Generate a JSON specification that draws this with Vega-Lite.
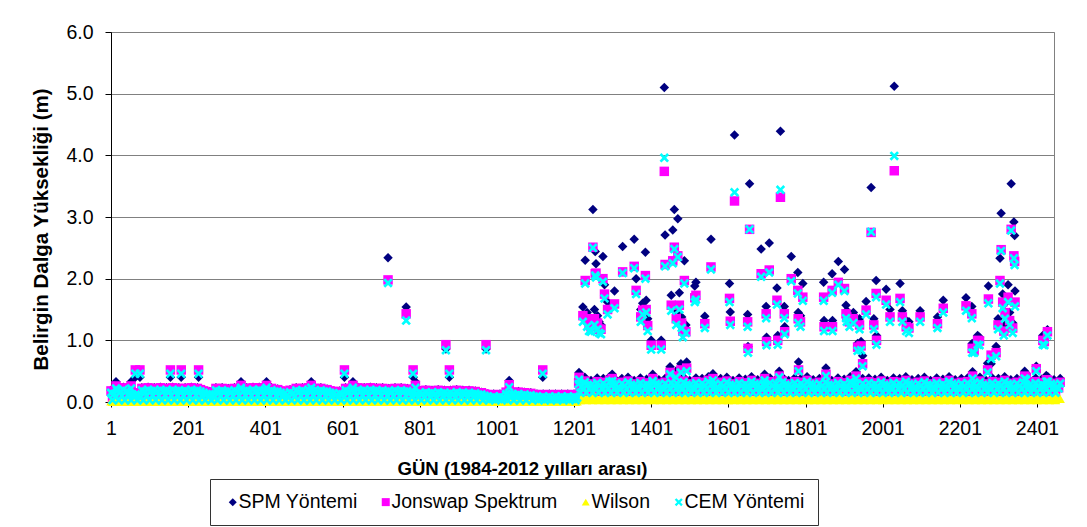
{
"$schema": "https://vega.github.io/schema/vega-lite/v6.json",
"width": 943, "height": 370,
"autosize": {"type": "none"},
"padding": {"left": 111, "top": 32, "right": 33, "bottom": 125},
"background": "white",
"config": {
  "font": "Liberation Sans",
  "view": {"stroke": "#808080", "strokeWidth": 1},
  "mark": {"invalid": "filter"},
  "axis": {"labelFont": "Liberation Sans", "titleFont": "Liberation Sans", "labelColor": "black", "titleColor": "black", "domainColor": "black", "tickColor": "black", "labelFontSize": 19.5, "titleFontWeight": "bold"}
},
"data": {"values": [
{"t":1,"a":0.19,"b":0.18,"c":0.01,"d":0.15},{"t":5,"a":0.05,"b":0.04,"c":0,"d":0.03},{"t":9,"a":0.17,"b":0.16,"c":0.01,"d":0.13},{"t":13,"a":0.11,"b":0.1,"c":0.01,"d":0.08},
{"t":17,"a":0.23,"b":0.22,"c":0.01,"d":0.19},{"t":21,"a":0.05,"b":0.04,"c":0,"d":0.03},{"t":25,"a":0.21,"b":0.2,"c":0.01,"d":0.17},{"t":29,"a":0.13,"b":0.12,"c":0.01,"d":0.1},
{"t":33,"a":0.24,"b":0.23,"c":0.01,"d":0.2},{"t":37,"a":0.05,"b":0.04,"c":0,"d":0.03},{"t":41,"a":0.22,"b":0.21,"c":0.01,"d":0.18},{"t":45,"a":0.14,"b":0.13,"c":0.01,"d":0.11},
{"t":49,"a":0.18,"b":0.17,"c":0.01,"d":0.14},{"t":53,"a":0.05,"b":0.04,"c":0,"d":0.03},{"t":57,"a":0.16,"b":0.15,"c":0.01,"d":0.12},{"t":61,"a":0.11,"b":0.1,"c":0.01,"d":0.08},
{"t":65,"a":0.16,"b":0.15,"c":0.01,"d":0.12},{"t":69,"a":0.05,"b":0.04,"c":0,"d":0.03},{"t":73,"a":0.14,"b":0.13,"c":0.01,"d":0.1},{"t":77,"a":0.1,"b":0.09,"c":0.01,"d":0.07},
{"t":81,"a":0.23,"b":0.22,"c":0.01,"d":0.19},{"t":85,"a":0.05,"b":0.04,"c":0,"d":0.03},{"t":89,"a":0.21,"b":0.2,"c":0.01,"d":0.17},{"t":93,"a":0.13,"b":0.12,"c":0.01,"d":0.1},
{"t":97,"a":0.24,"b":0.23,"c":0.01,"d":0.2},{"t":101,"a":0.05,"b":0.04,"c":0,"d":0.03},{"t":105,"a":0.22,"b":0.21,"c":0.01,"d":0.18},{"t":109,"a":0.14,"b":0.13,"c":0.01,"d":0.11},
{"t":113,"a":0.23,"b":0.22,"c":0.01,"d":0.19},{"t":117,"a":0.05,"b":0.04,"c":0,"d":0.03},{"t":121,"a":0.21,"b":0.2,"c":0.01,"d":0.17},{"t":125,"a":0.13,"b":0.12,"c":0.01,"d":0.1},
{"t":129,"a":0.24,"b":0.23,"c":0.01,"d":0.2},{"t":133,"a":0.05,"b":0.04,"c":0,"d":0.03},{"t":137,"a":0.22,"b":0.21,"c":0.01,"d":0.18},{"t":141,"a":0.14,"b":0.13,"c":0.01,"d":0.11},
{"t":145,"a":0.23,"b":0.22,"c":0.01,"d":0.19},{"t":149,"a":0.05,"b":0.04,"c":0,"d":0.03},{"t":153,"a":0.21,"b":0.2,"c":0.01,"d":0.17},{"t":157,"a":0.13,"b":0.12,"c":0.01,"d":0.1},
{"t":161,"a":0.24,"b":0.23,"c":0.01,"d":0.2},{"t":165,"a":0.05,"b":0.04,"c":0,"d":0.03},{"t":169,"a":0.22,"b":0.21,"c":0.01,"d":0.18},{"t":173,"a":0.14,"b":0.13,"c":0.01,"d":0.11},
{"t":177,"a":0.23,"b":0.22,"c":0.01,"d":0.19},{"t":181,"a":0.05,"b":0.04,"c":0,"d":0.03},{"t":185,"a":0.21,"b":0.2,"c":0.01,"d":0.17},{"t":189,"a":0.13,"b":0.12,"c":0.01,"d":0.1},
{"t":193,"a":0.23,"b":0.22,"c":0.01,"d":0.19},{"t":197,"a":0.05,"b":0.04,"c":0,"d":0.03},{"t":201,"a":0.21,"b":0.2,"c":0.01,"d":0.17},{"t":205,"a":0.13,"b":0.12,"c":0.01,"d":0.1},
{"t":209,"a":0.24,"b":0.23,"c":0.01,"d":0.2},{"t":213,"a":0.05,"b":0.04,"c":0,"d":0.03},{"t":217,"a":0.22,"b":0.21,"c":0.01,"d":0.18},{"t":221,"a":0.14,"b":0.13,"c":0.01,"d":0.11},
{"t":225,"a":0.23,"b":0.22,"c":0.01,"d":0.19},{"t":229,"a":0.05,"b":0.04,"c":0,"d":0.03},{"t":233,"a":0.21,"b":0.2,"c":0.01,"d":0.17},{"t":237,"a":0.13,"b":0.12,"c":0.01,"d":0.1},
{"t":241,"a":0.19,"b":0.18,"c":0.01,"d":0.15},{"t":245,"a":0.05,"b":0.04,"c":0,"d":0.03},{"t":249,"a":0.17,"b":0.16,"c":0.01,"d":0.13},{"t":253,"a":0.11,"b":0.1,"c":0.01,"d":0.08},
{"t":257,"a":0.17,"b":0.16,"c":0.01,"d":0.13},{"t":261,"a":0.05,"b":0.04,"c":0,"d":0.03},{"t":265,"a":0.15,"b":0.14,"c":0.01,"d":0.11},{"t":269,"a":0.1,"b":0.09,"c":0.01,"d":0.07},
{"t":273,"a":0.23,"b":0.22,"c":0.01,"d":0.19},{"t":277,"a":0.05,"b":0.04,"c":0,"d":0.03},{"t":281,"a":0.21,"b":0.2,"c":0.01,"d":0.17},{"t":285,"a":0.13,"b":0.12,"c":0.01,"d":0.1},
{"t":289,"a":0.23,"b":0.22,"c":0.01,"d":0.19},{"t":293,"a":0.05,"b":0.04,"c":0,"d":0.03},{"t":297,"a":0.21,"b":0.2,"c":0.01,"d":0.17},{"t":301,"a":0.13,"b":0.12,"c":0.01,"d":0.1},
{"t":305,"a":0.22,"b":0.21,"c":0.01,"d":0.18},{"t":309,"a":0.05,"b":0.04,"c":0,"d":0.03},{"t":313,"a":0.2,"b":0.19,"c":0.01,"d":0.16},{"t":317,"a":0.13,"b":0.12,"c":0.01,"d":0.1},
{"t":321,"a":0.23,"b":0.22,"c":0.01,"d":0.19},{"t":325,"a":0.05,"b":0.04,"c":0,"d":0.03},{"t":329,"a":0.21,"b":0.2,"c":0.01,"d":0.17},{"t":333,"a":0.13,"b":0.12,"c":0.01,"d":0.1},
{"t":337,"a":0.24,"b":0.23,"c":0.01,"d":0.2},{"t":341,"a":0.05,"b":0.04,"c":0,"d":0.03},{"t":345,"a":0.22,"b":0.21,"c":0.01,"d":0.18},{"t":349,"a":0.14,"b":0.13,"c":0.01,"d":0.11},
{"t":353,"a":0.23,"b":0.22,"c":0.01,"d":0.19},{"t":357,"a":0.05,"b":0.04,"c":0,"d":0.03},{"t":361,"a":0.21,"b":0.2,"c":0.01,"d":0.17},{"t":365,"a":0.13,"b":0.12,"c":0.01,"d":0.1},
{"t":369,"a":0.24,"b":0.23,"c":0.01,"d":0.2},{"t":373,"a":0.05,"b":0.04,"c":0,"d":0.03},{"t":377,"a":0.22,"b":0.21,"c":0.01,"d":0.18},{"t":381,"a":0.14,"b":0.13,"c":0.01,"d":0.11},
{"t":385,"a":0.24,"b":0.23,"c":0.01,"d":0.2},{"t":389,"a":0.05,"b":0.04,"c":0,"d":0.03},{"t":393,"a":0.22,"b":0.21,"c":0.01,"d":0.18},{"t":397,"a":0.14,"b":0.13,"c":0.01,"d":0.11},
{"t":401,"a":0.23,"b":0.22,"c":0.01,"d":0.19},{"t":405,"a":0.05,"b":0.04,"c":0,"d":0.03},{"t":409,"a":0.21,"b":0.2,"c":0.01,"d":0.17},{"t":413,"a":0.13,"b":0.12,"c":0.01,"d":0.1},
{"t":417,"a":0.23,"b":0.22,"c":0.01,"d":0.19},{"t":421,"a":0.05,"b":0.04,"c":0,"d":0.03},{"t":425,"a":0.21,"b":0.2,"c":0.01,"d":0.17},{"t":429,"a":0.13,"b":0.12,"c":0.01,"d":0.1},
{"t":433,"a":0.21,"b":0.2,"c":0.01,"d":0.17},{"t":437,"a":0.05,"b":0.04,"c":0,"d":0.03},{"t":441,"a":0.19,"b":0.18,"c":0.01,"d":0.15},{"t":445,"a":0.12,"b":0.11,"c":0.01,"d":0.09},
{"t":449,"a":0.17,"b":0.16,"c":0.01,"d":0.13},{"t":453,"a":0.05,"b":0.04,"c":0,"d":0.03},{"t":457,"a":0.15,"b":0.14,"c":0.01,"d":0.11},{"t":461,"a":0.1,"b":0.09,"c":0.01,"d":0.07},
{"t":465,"a":0.2,"b":0.19,"c":0.01,"d":0.16},{"t":469,"a":0.05,"b":0.04,"c":0,"d":0.03},{"t":473,"a":0.18,"b":0.17,"c":0.01,"d":0.14},{"t":477,"a":0.12,"b":0.11,"c":0.01,"d":0.09},
{"t":481,"a":0.23,"b":0.22,"c":0.01,"d":0.19},{"t":485,"a":0.05,"b":0.04,"c":0,"d":0.03},{"t":489,"a":0.21,"b":0.2,"c":0.01,"d":0.17},{"t":493,"a":0.13,"b":0.12,"c":0.01,"d":0.1},
{"t":497,"a":0.23,"b":0.22,"c":0.01,"d":0.19},{"t":501,"a":0.05,"b":0.04,"c":0,"d":0.03},{"t":505,"a":0.21,"b":0.2,"c":0.01,"d":0.17},{"t":509,"a":0.13,"b":0.12,"c":0.01,"d":0.1},
{"t":513,"a":0.24,"b":0.23,"c":0.01,"d":0.2},{"t":517,"a":0.05,"b":0.04,"c":0,"d":0.03},{"t":521,"a":0.22,"b":0.21,"c":0.01,"d":0.18},{"t":525,"a":0.14,"b":0.13,"c":0.01,"d":0.11},
{"t":529,"a":0.23,"b":0.22,"c":0.01,"d":0.19},{"t":533,"a":0.05,"b":0.04,"c":0,"d":0.03},{"t":537,"a":0.21,"b":0.2,"c":0.01,"d":0.17},{"t":541,"a":0.13,"b":0.12,"c":0.01,"d":0.1},
{"t":545,"a":0.23,"b":0.22,"c":0.01,"d":0.19},{"t":549,"a":0.05,"b":0.04,"c":0,"d":0.03},{"t":553,"a":0.21,"b":0.2,"c":0.01,"d":0.17},{"t":557,"a":0.13,"b":0.12,"c":0.01,"d":0.1},
{"t":561,"a":0.21,"b":0.2,"c":0.01,"d":0.17},{"t":565,"a":0.05,"b":0.04,"c":0,"d":0.03},{"t":569,"a":0.19,"b":0.18,"c":0.01,"d":0.15},{"t":573,"a":0.12,"b":0.11,"c":0.01,"d":0.09},
{"t":577,"a":0.18,"b":0.17,"c":0.01,"d":0.14},{"t":581,"a":0.05,"b":0.04,"c":0,"d":0.03},{"t":585,"a":0.16,"b":0.15,"c":0.01,"d":0.12},{"t":589,"a":0.11,"b":0.1,"c":0.01,"d":0.08},
{"t":593,"a":0.18,"b":0.17,"c":0.01,"d":0.14},{"t":597,"a":0.05,"b":0.04,"c":0,"d":0.03},{"t":601,"a":0.16,"b":0.15,"c":0.01,"d":0.12},{"t":605,"a":0.11,"b":0.1,"c":0.01,"d":0.08},
{"t":609,"a":0.23,"b":0.22,"c":0.01,"d":0.19},{"t":613,"a":0.05,"b":0.04,"c":0,"d":0.03},{"t":617,"a":0.21,"b":0.2,"c":0.01,"d":0.17},{"t":621,"a":0.13,"b":0.12,"c":0.01,"d":0.1},
{"t":625,"a":0.23,"b":0.22,"c":0.01,"d":0.19},{"t":629,"a":0.05,"b":0.04,"c":0,"d":0.03},{"t":633,"a":0.21,"b":0.2,"c":0.01,"d":0.17},{"t":637,"a":0.13,"b":0.12,"c":0.01,"d":0.1},
{"t":641,"a":0.24,"b":0.23,"c":0.01,"d":0.2},{"t":645,"a":0.05,"b":0.04,"c":0,"d":0.03},{"t":649,"a":0.22,"b":0.21,"c":0.01,"d":0.18},{"t":653,"a":0.14,"b":0.13,"c":0.01,"d":0.11},
{"t":657,"a":0.23,"b":0.22,"c":0.01,"d":0.19},{"t":661,"a":0.05,"b":0.04,"c":0,"d":0.03},{"t":665,"a":0.21,"b":0.2,"c":0.01,"d":0.17},{"t":669,"a":0.13,"b":0.12,"c":0.01,"d":0.1},
{"t":673,"a":0.24,"b":0.23,"c":0.01,"d":0.2},{"t":677,"a":0.05,"b":0.04,"c":0,"d":0.03},{"t":681,"a":0.22,"b":0.21,"c":0.01,"d":0.18},{"t":685,"a":0.14,"b":0.13,"c":0.01,"d":0.11},
{"t":689,"a":0.23,"b":0.22,"c":0.01,"d":0.19},{"t":693,"a":0.05,"b":0.04,"c":0,"d":0.03},{"t":697,"a":0.21,"b":0.2,"c":0.01,"d":0.17},{"t":701,"a":0.13,"b":0.12,"c":0.01,"d":0.1},
{"t":705,"a":0.23,"b":0.22,"c":0.01,"d":0.19},{"t":709,"a":0.05,"b":0.04,"c":0,"d":0.03},{"t":713,"a":0.21,"b":0.2,"c":0.01,"d":0.17},{"t":717,"a":0.13,"b":0.12,"c":0.01,"d":0.1},
{"t":721,"a":0.22,"b":0.21,"c":0.01,"d":0.18},{"t":725,"a":0.05,"b":0.04,"c":0,"d":0.03},{"t":729,"a":0.2,"b":0.19,"c":0.01,"d":0.16},{"t":733,"a":0.13,"b":0.12,"c":0.01,"d":0.1},
{"t":737,"a":0.23,"b":0.22,"c":0.01,"d":0.19},{"t":741,"a":0.05,"b":0.04,"c":0,"d":0.03},{"t":745,"a":0.21,"b":0.2,"c":0.01,"d":0.17},{"t":749,"a":0.13,"b":0.12,"c":0.01,"d":0.1},
{"t":753,"a":0.23,"b":0.22,"c":0.01,"d":0.19},{"t":757,"a":0.05,"b":0.04,"c":0,"d":0.03},{"t":761,"a":0.21,"b":0.2,"c":0.01,"d":0.17},{"t":765,"a":0.13,"b":0.12,"c":0.01,"d":0.1},
{"t":769,"a":0.22,"b":0.21,"c":0.01,"d":0.18},{"t":773,"a":0.05,"b":0.04,"c":0,"d":0.03},{"t":777,"a":0.2,"b":0.19,"c":0.01,"d":0.16},{"t":781,"a":0.13,"b":0.12,"c":0.01,"d":0.1},
{"t":785,"a":0.19,"b":0.18,"c":0.01,"d":0.15},{"t":789,"a":0.05,"b":0.04,"c":0,"d":0.03},{"t":793,"a":0.17,"b":0.16,"c":0.01,"d":0.13},{"t":797,"a":0.11,"b":0.1,"c":0.01,"d":0.08},
{"t":801,"a":0.19,"b":0.18,"c":0.01,"d":0.15},{"t":805,"a":0.05,"b":0.04,"c":0,"d":0.03},{"t":809,"a":0.17,"b":0.16,"c":0.01,"d":0.13},{"t":813,"a":0.11,"b":0.1,"c":0.01,"d":0.08},
{"t":817,"a":0.2,"b":0.19,"c":0.01,"d":0.16},{"t":821,"a":0.05,"b":0.04,"c":0,"d":0.03},{"t":825,"a":0.18,"b":0.17,"c":0.01,"d":0.14},{"t":829,"a":0.12,"b":0.11,"c":0.01,"d":0.09},
{"t":833,"a":0.19,"b":0.18,"c":0.01,"d":0.15},{"t":837,"a":0.05,"b":0.04,"c":0,"d":0.03},{"t":841,"a":0.17,"b":0.16,"c":0.01,"d":0.13},{"t":845,"a":0.11,"b":0.1,"c":0.01,"d":0.08},
{"t":849,"a":0.2,"b":0.19,"c":0.01,"d":0.16},{"t":853,"a":0.05,"b":0.04,"c":0,"d":0.03},{"t":857,"a":0.18,"b":0.17,"c":0.01,"d":0.14},{"t":861,"a":0.12,"b":0.11,"c":0.01,"d":0.09},
{"t":865,"a":0.19,"b":0.18,"c":0.01,"d":0.15},{"t":869,"a":0.05,"b":0.04,"c":0,"d":0.03},{"t":873,"a":0.17,"b":0.16,"c":0.01,"d":0.13},{"t":877,"a":0.11,"b":0.1,"c":0.01,"d":0.08},
{"t":881,"a":0.19,"b":0.18,"c":0.01,"d":0.15},{"t":885,"a":0.05,"b":0.04,"c":0,"d":0.03},{"t":889,"a":0.17,"b":0.16,"c":0.01,"d":0.13},{"t":893,"a":0.11,"b":0.1,"c":0.01,"d":0.08},
{"t":897,"a":0.2,"b":0.19,"c":0.01,"d":0.16},{"t":901,"a":0.05,"b":0.04,"c":0,"d":0.03},{"t":905,"a":0.18,"b":0.17,"c":0.01,"d":0.14},{"t":909,"a":0.12,"b":0.11,"c":0.01,"d":0.09},
{"t":913,"a":0.19,"b":0.18,"c":0.01,"d":0.15},{"t":917,"a":0.05,"b":0.04,"c":0,"d":0.03},{"t":921,"a":0.17,"b":0.16,"c":0.01,"d":0.13},{"t":925,"a":0.11,"b":0.1,"c":0.01,"d":0.08},
{"t":929,"a":0.19,"b":0.18,"c":0.01,"d":0.15},{"t":933,"a":0.05,"b":0.04,"c":0,"d":0.03},{"t":937,"a":0.17,"b":0.16,"c":0.01,"d":0.13},{"t":941,"a":0.11,"b":0.1,"c":0.01,"d":0.08},
{"t":945,"a":0.18,"b":0.17,"c":0.01,"d":0.14},{"t":949,"a":0.05,"b":0.04,"c":0,"d":0.03},{"t":953,"a":0.16,"b":0.15,"c":0.01,"d":0.12},{"t":957,"a":0.11,"b":0.1,"c":0.01,"d":0.08},
{"t":961,"a":0.16,"b":0.15,"c":0.01,"d":0.12},{"t":965,"a":0.05,"b":0.04,"c":0,"d":0.03},{"t":969,"a":0.14,"b":0.13,"c":0.01,"d":0.1},{"t":973,"a":0.1,"b":0.09,"c":0.01,"d":0.07},
{"t":977,"a":0.13,"b":0.12,"c":0.01,"d":0.09},{"t":981,"a":0.05,"b":0.04,"c":0,"d":0.03},{"t":985,"a":0.11,"b":0.1,"c":0.01,"d":0.07},{"t":989,"a":0.08,"b":0.07,"c":0.01,"d":0.05},
{"t":993,"a":0.13,"b":0.12,"c":0.01,"d":0.09},{"t":997,"a":0.05,"b":0.04,"c":0,"d":0.03},{"t":1001,"a":0.11,"b":0.1,"c":0.01,"d":0.07},{"t":1005,"a":0.08,"b":0.07,"c":0.01,"d":0.05},
{"t":1009,"a":0.13,"b":0.12,"c":0.01,"d":0.09},{"t":1013,"a":0.05,"b":0.04,"c":0,"d":0.03},{"t":1017,"a":0.11,"b":0.1,"c":0.01,"d":0.07},{"t":1021,"a":0.08,"b":0.07,"c":0.01,"d":0.05},
{"t":1025,"a":0.17,"b":0.16,"c":0.01,"d":0.13},{"t":1029,"a":0.05,"b":0.04,"c":0,"d":0.03},{"t":1033,"a":0.15,"b":0.14,"c":0.01,"d":0.11},{"t":1037,"a":0.1,"b":0.09,"c":0.01,"d":0.07},
{"t":1041,"a":0.17,"b":0.16,"c":0.01,"d":0.13},{"t":1045,"a":0.05,"b":0.04,"c":0,"d":0.03},{"t":1049,"a":0.15,"b":0.14,"c":0.01,"d":0.11},{"t":1053,"a":0.1,"b":0.09,"c":0.01,"d":0.07},
{"t":1057,"a":0.17,"b":0.16,"c":0.01,"d":0.13},{"t":1061,"a":0.05,"b":0.04,"c":0,"d":0.03},{"t":1065,"a":0.15,"b":0.14,"c":0.01,"d":0.11},{"t":1069,"a":0.1,"b":0.09,"c":0.01,"d":0.07},
{"t":1073,"a":0.16,"b":0.15,"c":0.01,"d":0.12},{"t":1077,"a":0.05,"b":0.04,"c":0,"d":0.03},{"t":1081,"a":0.14,"b":0.13,"c":0.01,"d":0.1},{"t":1085,"a":0.1,"b":0.09,"c":0.01,"d":0.07},
{"t":1089,"a":0.15,"b":0.14,"c":0.01,"d":0.11},{"t":1093,"a":0.05,"b":0.04,"c":0,"d":0.03},{"t":1097,"a":0.13,"b":0.12,"c":0.01,"d":0.09},{"t":1101,"a":0.09,"b":0.08,"c":0.01,"d":0.06},
{"t":1105,"a":0.13,"b":0.12,"c":0.01,"d":0.09},{"t":1109,"a":0.05,"b":0.04,"c":0,"d":0.03},{"t":1113,"a":0.11,"b":0.1,"c":0.01,"d":0.07},{"t":1117,"a":0.08,"b":0.07,"c":0.01,"d":0.05},
{"t":1121,"a":0.13,"b":0.12,"c":0.01,"d":0.09},{"t":1125,"a":0.05,"b":0.04,"c":0,"d":0.03},{"t":1129,"a":0.11,"b":0.1,"c":0.01,"d":0.07},{"t":1133,"a":0.08,"b":0.07,"c":0.01,"d":0.05},
{"t":1137,"a":0.13,"b":0.12,"c":0.01,"d":0.09},{"t":1141,"a":0.05,"b":0.04,"c":0,"d":0.03},{"t":1145,"a":0.11,"b":0.1,"c":0.01,"d":0.07},{"t":1149,"a":0.08,"b":0.07,"c":0.01,"d":0.05},
{"t":1153,"a":0.13,"b":0.12,"c":0.01,"d":0.09},{"t":1157,"a":0.05,"b":0.04,"c":0,"d":0.03},{"t":1161,"a":0.11,"b":0.1,"c":0.01,"d":0.07},{"t":1165,"a":0.08,"b":0.07,"c":0.01,"d":0.05},
{"t":1169,"a":0.13,"b":0.12,"c":0.01,"d":0.09},{"t":1173,"a":0.05,"b":0.04,"c":0,"d":0.03},{"t":1177,"a":0.11,"b":0.1,"c":0.01,"d":0.07},{"t":1181,"a":0.08,"b":0.07,"c":0.01,"d":0.05},
{"t":1185,"a":0.13,"b":0.12,"c":0.01,"d":0.09},{"t":1189,"a":0.05,"b":0.04,"c":0,"d":0.03},{"t":1193,"a":0.11,"b":0.1,"c":0.01,"d":0.07},{"t":1197,"a":0.08,"b":0.07,"c":0.01,"d":0.05},
{"t":1201,"a":0.13,"b":0.12,"c":0.01,"d":0.09},{"t":1205,"a":0.05,"b":0.04,"c":0,"d":0.03},{"t":1209,"a":0.11,"b":0.1,"c":0.01,"d":0.07},
{"t":1213,"a":0.37,"b":0.31,"c":0.05,"d":0.29},{"t":1217,"a":0.2,"b":0.17,"c":0.03,"d":0.15},{"t":1221,"a":0.3,"b":0.26,"c":0.08,"d":0.25},{"t":1225,"a":0.26,"b":0.23,"c":0.06,"d":0.22},
{"t":1229,"a":0.4,"b":0.34,"c":0.05,"d":0.32},{"t":1233,"a":0.2,"b":0.17,"c":0.03,"d":0.15},{"t":1237,"a":0.33,"b":0.29,"c":0.07,"d":0.28},{"t":1241,"a":0.26,"b":0.23,"c":0.05,"d":0.22},
{"t":1245,"a":0.35,"b":0.29,"c":0.05,"d":0.27},{"t":1249,"a":0.2,"b":0.17,"c":0.03,"d":0.15},{"t":1253,"a":0.28,"b":0.24,"c":0.11,"d":0.23},{"t":1257,"a":0.26,"b":0.23,"c":0.08,"d":0.22},
{"t":1261,"a":0.39,"b":0.33,"c":0.05,"d":0.31},{"t":1265,"a":0.2,"b":0.17,"c":0.03,"d":0.15},{"t":1269,"a":0.32,"b":0.28,"c":0.06,"d":0.27},{"t":1273,"a":0.26,"b":0.23,"c":0.06,"d":0.22},
{"t":1277,"a":0.38,"b":0.32,"c":0.05,"d":0.3},{"t":1281,"a":0.2,"b":0.17,"c":0.03,"d":0.15},{"t":1285,"a":0.31,"b":0.27,"c":0.09,"d":0.26},{"t":1289,"a":0.26,"b":0.23,"c":0.05,"d":0.22},
{"t":1293,"a":0.41,"b":0.35,"c":0.05,"d":0.33},{"t":1297,"a":0.2,"b":0.17,"c":0.03,"d":0.15},{"t":1301,"a":0.34,"b":0.3,"c":0.08,"d":0.29},{"t":1305,"a":0.26,"b":0.23,"c":0.08,"d":0.22},
{"t":1309,"a":0.36,"b":0.3,"c":0.05,"d":0.28},{"t":1313,"a":0.2,"b":0.17,"c":0.03,"d":0.15},{"t":1317,"a":0.29,"b":0.25,"c":0.07,"d":0.24},{"t":1321,"a":0.26,"b":0.23,"c":0.06,"d":0.22},
{"t":1325,"a":0.38,"b":0.32,"c":0.05,"d":0.3},{"t":1329,"a":0.2,"b":0.17,"c":0.03,"d":0.15},{"t":1333,"a":0.31,"b":0.27,"c":0.11,"d":0.26},{"t":1337,"a":0.26,"b":0.23,"c":0.05,"d":0.22},
{"t":1341,"a":0.4,"b":0.34,"c":0.05,"d":0.32},{"t":1345,"a":0.2,"b":0.17,"c":0.03,"d":0.15},{"t":1349,"a":0.33,"b":0.29,"c":0.06,"d":0.28},{"t":1353,"a":0.26,"b":0.23,"c":0.08,"d":0.22},
{"t":1357,"a":0.35,"b":0.29,"c":0.05,"d":0.27},{"t":1361,"a":0.2,"b":0.17,"c":0.03,"d":0.15},{"t":1365,"a":0.28,"b":0.24,"c":0.09,"d":0.23},{"t":1369,"a":0.26,"b":0.23,"c":0.06,"d":0.22},
{"t":1373,"a":0.39,"b":0.33,"c":0.05,"d":0.31},{"t":1377,"a":0.2,"b":0.17,"c":0.03,"d":0.15},{"t":1381,"a":0.32,"b":0.28,"c":0.08,"d":0.27},{"t":1385,"a":0.26,"b":0.23,"c":0.05,"d":0.22},
{"t":1389,"a":0.37,"b":0.31,"c":0.05,"d":0.29},{"t":1393,"a":0.2,"b":0.17,"c":0.03,"d":0.15},{"t":1397,"a":0.3,"b":0.26,"c":0.07,"d":0.25},{"t":1401,"a":0.26,"b":0.23,"c":0.08,"d":0.22},
{"t":1405,"a":0.41,"b":0.35,"c":0.05,"d":0.33},{"t":1409,"a":0.2,"b":0.17,"c":0.03,"d":0.15},{"t":1413,"a":0.34,"b":0.3,"c":0.11,"d":0.29},{"t":1417,"a":0.26,"b":0.23,"c":0.06,"d":0.22},
{"t":1421,"a":0.36,"b":0.3,"c":0.05,"d":0.28},{"t":1425,"a":0.2,"b":0.17,"c":0.03,"d":0.15},{"t":1429,"a":0.29,"b":0.25,"c":0.06,"d":0.24},{"t":1433,"a":0.26,"b":0.23,"c":0.05,"d":0.22},
{"t":1437,"a":0.38,"b":0.32,"c":0.05,"d":0.3},{"t":1441,"a":0.2,"b":0.17,"c":0.03,"d":0.15},{"t":1445,"a":0.31,"b":0.27,"c":0.09,"d":0.26},{"t":1449,"a":0.26,"b":0.23,"c":0.08,"d":0.22},
{"t":1453,"a":0.39,"b":0.33,"c":0.05,"d":0.31},{"t":1457,"a":0.2,"b":0.17,"c":0.03,"d":0.15},{"t":1461,"a":0.32,"b":0.28,"c":0.08,"d":0.27},{"t":1465,"a":0.26,"b":0.23,"c":0.06,"d":0.22},
{"t":1469,"a":0.37,"b":0.31,"c":0.05,"d":0.29},{"t":1473,"a":0.2,"b":0.17,"c":0.03,"d":0.15},{"t":1477,"a":0.3,"b":0.26,"c":0.07,"d":0.25},{"t":1481,"a":0.26,"b":0.23,"c":0.05,"d":0.22},
{"t":1485,"a":0.4,"b":0.34,"c":0.05,"d":0.32},{"t":1489,"a":0.2,"b":0.17,"c":0.03,"d":0.15},{"t":1493,"a":0.33,"b":0.29,"c":0.11,"d":0.28},{"t":1497,"a":0.26,"b":0.23,"c":0.08,"d":0.22},
{"t":1501,"a":0.35,"b":0.29,"c":0.05,"d":0.27},{"t":1505,"a":0.2,"b":0.17,"c":0.03,"d":0.15},{"t":1509,"a":0.28,"b":0.24,"c":0.06,"d":0.23},{"t":1513,"a":0.26,"b":0.23,"c":0.06,"d":0.22},
{"t":1517,"a":0.39,"b":0.33,"c":0.05,"d":0.31},{"t":1521,"a":0.2,"b":0.17,"c":0.03,"d":0.15},{"t":1525,"a":0.32,"b":0.28,"c":0.09,"d":0.27},{"t":1529,"a":0.26,"b":0.23,"c":0.05,"d":0.22},
{"t":1533,"a":0.38,"b":0.32,"c":0.05,"d":0.3},{"t":1537,"a":0.2,"b":0.17,"c":0.03,"d":0.15},{"t":1541,"a":0.31,"b":0.27,"c":0.08,"d":0.26},{"t":1545,"a":0.26,"b":0.23,"c":0.08,"d":0.22},
{"t":1549,"a":0.41,"b":0.35,"c":0.05,"d":0.33},{"t":1553,"a":0.2,"b":0.17,"c":0.03,"d":0.15},{"t":1557,"a":0.34,"b":0.3,"c":0.07,"d":0.29},{"t":1561,"a":0.26,"b":0.23,"c":0.06,"d":0.22},
{"t":1565,"a":0.36,"b":0.3,"c":0.05,"d":0.28},{"t":1569,"a":0.2,"b":0.17,"c":0.03,"d":0.15},{"t":1573,"a":0.29,"b":0.25,"c":0.11,"d":0.24},{"t":1577,"a":0.26,"b":0.23,"c":0.05,"d":0.22},
{"t":1581,"a":0.38,"b":0.32,"c":0.05,"d":0.3},{"t":1585,"a":0.2,"b":0.17,"c":0.03,"d":0.15},{"t":1589,"a":0.31,"b":0.27,"c":0.06,"d":0.26},{"t":1593,"a":0.26,"b":0.23,"c":0.08,"d":0.22},
{"t":1597,"a":0.4,"b":0.34,"c":0.05,"d":0.32},{"t":1601,"a":0.2,"b":0.17,"c":0.03,"d":0.15},{"t":1605,"a":0.33,"b":0.29,"c":0.09,"d":0.28},{"t":1609,"a":0.26,"b":0.23,"c":0.06,"d":0.22},
{"t":1613,"a":0.35,"b":0.29,"c":0.05,"d":0.27},{"t":1617,"a":0.2,"b":0.17,"c":0.03,"d":0.15},{"t":1621,"a":0.28,"b":0.24,"c":0.08,"d":0.23},{"t":1625,"a":0.26,"b":0.23,"c":0.05,"d":0.22},
{"t":1629,"a":0.39,"b":0.33,"c":0.05,"d":0.31},{"t":1633,"a":0.2,"b":0.17,"c":0.03,"d":0.15},{"t":1637,"a":0.32,"b":0.28,"c":0.07,"d":0.27},{"t":1641,"a":0.26,"b":0.23,"c":0.08,"d":0.22},
{"t":1645,"a":0.37,"b":0.31,"c":0.05,"d":0.29},{"t":1649,"a":0.2,"b":0.17,"c":0.03,"d":0.15},{"t":1653,"a":0.3,"b":0.26,"c":0.11,"d":0.25},{"t":1657,"a":0.26,"b":0.23,"c":0.06,"d":0.22},
{"t":1661,"a":0.41,"b":0.35,"c":0.05,"d":0.33},{"t":1665,"a":0.2,"b":0.17,"c":0.03,"d":0.15},{"t":1669,"a":0.34,"b":0.3,"c":0.06,"d":0.29},{"t":1673,"a":0.26,"b":0.23,"c":0.05,"d":0.22},
{"t":1677,"a":0.36,"b":0.3,"c":0.05,"d":0.28},{"t":1681,"a":0.2,"b":0.17,"c":0.03,"d":0.15},{"t":1685,"a":0.29,"b":0.25,"c":0.09,"d":0.24},{"t":1689,"a":0.26,"b":0.23,"c":0.08,"d":0.22},
{"t":1693,"a":0.38,"b":0.32,"c":0.05,"d":0.3},{"t":1697,"a":0.2,"b":0.17,"c":0.03,"d":0.15},{"t":1701,"a":0.31,"b":0.27,"c":0.08,"d":0.26},{"t":1705,"a":0.26,"b":0.23,"c":0.06,"d":0.22},
{"t":1709,"a":0.39,"b":0.33,"c":0.05,"d":0.31},{"t":1713,"a":0.2,"b":0.17,"c":0.03,"d":0.15},{"t":1717,"a":0.32,"b":0.28,"c":0.07,"d":0.27},{"t":1721,"a":0.26,"b":0.23,"c":0.05,"d":0.22},
{"t":1725,"a":0.37,"b":0.31,"c":0.05,"d":0.29},{"t":1729,"a":0.2,"b":0.17,"c":0.03,"d":0.15},{"t":1733,"a":0.3,"b":0.26,"c":0.11,"d":0.25},{"t":1737,"a":0.26,"b":0.23,"c":0.08,"d":0.22},
{"t":1741,"a":0.4,"b":0.34,"c":0.05,"d":0.32},{"t":1745,"a":0.2,"b":0.17,"c":0.03,"d":0.15},{"t":1749,"a":0.33,"b":0.29,"c":0.06,"d":0.28},{"t":1753,"a":0.26,"b":0.23,"c":0.06,"d":0.22},
{"t":1757,"a":0.35,"b":0.29,"c":0.05,"d":0.27},{"t":1761,"a":0.2,"b":0.17,"c":0.03,"d":0.15},{"t":1765,"a":0.28,"b":0.24,"c":0.09,"d":0.23},{"t":1769,"a":0.26,"b":0.23,"c":0.05,"d":0.22},
{"t":1773,"a":0.39,"b":0.33,"c":0.05,"d":0.31},{"t":1777,"a":0.2,"b":0.17,"c":0.03,"d":0.15},{"t":1781,"a":0.32,"b":0.28,"c":0.08,"d":0.27},{"t":1785,"a":0.26,"b":0.23,"c":0.08,"d":0.22},
{"t":1789,"a":0.38,"b":0.32,"c":0.05,"d":0.3},{"t":1793,"a":0.2,"b":0.17,"c":0.03,"d":0.15},{"t":1797,"a":0.31,"b":0.27,"c":0.07,"d":0.26},{"t":1801,"a":0.26,"b":0.23,"c":0.06,"d":0.22},
{"t":1805,"a":0.41,"b":0.35,"c":0.05,"d":0.33},{"t":1809,"a":0.2,"b":0.17,"c":0.03,"d":0.15},{"t":1813,"a":0.34,"b":0.3,"c":0.11,"d":0.29},{"t":1817,"a":0.26,"b":0.23,"c":0.05,"d":0.22},
{"t":1821,"a":0.36,"b":0.3,"c":0.05,"d":0.28},{"t":1825,"a":0.2,"b":0.17,"c":0.03,"d":0.15},{"t":1829,"a":0.29,"b":0.25,"c":0.06,"d":0.24},{"t":1833,"a":0.26,"b":0.23,"c":0.08,"d":0.22},
{"t":1837,"a":0.38,"b":0.32,"c":0.05,"d":0.3},{"t":1841,"a":0.2,"b":0.17,"c":0.03,"d":0.15},{"t":1845,"a":0.31,"b":0.27,"c":0.09,"d":0.26},{"t":1849,"a":0.26,"b":0.23,"c":0.06,"d":0.22},
{"t":1853,"a":0.4,"b":0.34,"c":0.05,"d":0.32},{"t":1857,"a":0.2,"b":0.17,"c":0.03,"d":0.15},{"t":1861,"a":0.33,"b":0.29,"c":0.08,"d":0.28},{"t":1865,"a":0.26,"b":0.23,"c":0.05,"d":0.22},
{"t":1869,"a":0.35,"b":0.29,"c":0.05,"d":0.27},{"t":1873,"a":0.2,"b":0.17,"c":0.03,"d":0.15},{"t":1877,"a":0.28,"b":0.24,"c":0.07,"d":0.23},{"t":1881,"a":0.26,"b":0.23,"c":0.08,"d":0.22},
{"t":1885,"a":0.39,"b":0.33,"c":0.05,"d":0.31},{"t":1889,"a":0.2,"b":0.17,"c":0.03,"d":0.15},{"t":1893,"a":0.32,"b":0.28,"c":0.11,"d":0.27},{"t":1897,"a":0.26,"b":0.23,"c":0.06,"d":0.22},
{"t":1901,"a":0.37,"b":0.31,"c":0.05,"d":0.29},{"t":1905,"a":0.2,"b":0.17,"c":0.03,"d":0.15},{"t":1909,"a":0.3,"b":0.26,"c":0.06,"d":0.25},{"t":1913,"a":0.26,"b":0.23,"c":0.05,"d":0.22},
{"t":1917,"a":0.41,"b":0.35,"c":0.05,"d":0.33},{"t":1921,"a":0.2,"b":0.17,"c":0.03,"d":0.15},{"t":1925,"a":0.34,"b":0.3,"c":0.09,"d":0.29},{"t":1929,"a":0.26,"b":0.23,"c":0.08,"d":0.22},
{"t":1933,"a":0.36,"b":0.3,"c":0.05,"d":0.28},{"t":1937,"a":0.2,"b":0.17,"c":0.03,"d":0.15},{"t":1941,"a":0.29,"b":0.25,"c":0.08,"d":0.24},{"t":1945,"a":0.26,"b":0.23,"c":0.06,"d":0.22},
{"t":1949,"a":0.38,"b":0.32,"c":0.05,"d":0.3},{"t":1953,"a":0.2,"b":0.17,"c":0.03,"d":0.15},{"t":1957,"a":0.31,"b":0.27,"c":0.07,"d":0.26},{"t":1961,"a":0.26,"b":0.23,"c":0.05,"d":0.22},
{"t":1965,"a":0.39,"b":0.33,"c":0.05,"d":0.31},{"t":1969,"a":0.2,"b":0.17,"c":0.03,"d":0.15},{"t":1973,"a":0.32,"b":0.28,"c":0.11,"d":0.27},{"t":1977,"a":0.26,"b":0.23,"c":0.08,"d":0.22},
{"t":1981,"a":0.37,"b":0.31,"c":0.05,"d":0.29},{"t":1985,"a":0.2,"b":0.17,"c":0.03,"d":0.15},{"t":1989,"a":0.3,"b":0.26,"c":0.06,"d":0.25},{"t":1993,"a":0.26,"b":0.23,"c":0.06,"d":0.22},
{"t":1997,"a":0.4,"b":0.34,"c":0.05,"d":0.32},{"t":2001,"a":0.2,"b":0.17,"c":0.03,"d":0.15},{"t":2005,"a":0.33,"b":0.29,"c":0.09,"d":0.28},{"t":2009,"a":0.26,"b":0.23,"c":0.05,"d":0.22},
{"t":2013,"a":0.35,"b":0.29,"c":0.05,"d":0.27},{"t":2017,"a":0.2,"b":0.17,"c":0.03,"d":0.15},{"t":2021,"a":0.28,"b":0.24,"c":0.08,"d":0.23},{"t":2025,"a":0.26,"b":0.23,"c":0.08,"d":0.22},
{"t":2029,"a":0.39,"b":0.33,"c":0.05,"d":0.31},{"t":2033,"a":0.2,"b":0.17,"c":0.03,"d":0.15},{"t":2037,"a":0.32,"b":0.28,"c":0.07,"d":0.27},{"t":2041,"a":0.26,"b":0.23,"c":0.06,"d":0.22},
{"t":2045,"a":0.38,"b":0.32,"c":0.05,"d":0.3},{"t":2049,"a":0.2,"b":0.17,"c":0.03,"d":0.15},{"t":2053,"a":0.31,"b":0.27,"c":0.11,"d":0.26},{"t":2057,"a":0.26,"b":0.23,"c":0.05,"d":0.22},
{"t":2061,"a":0.41,"b":0.35,"c":0.05,"d":0.33},{"t":2065,"a":0.2,"b":0.17,"c":0.03,"d":0.15},{"t":2069,"a":0.34,"b":0.3,"c":0.06,"d":0.29},{"t":2073,"a":0.26,"b":0.23,"c":0.08,"d":0.22},
{"t":2077,"a":0.36,"b":0.3,"c":0.05,"d":0.28},{"t":2081,"a":0.2,"b":0.17,"c":0.03,"d":0.15},{"t":2085,"a":0.29,"b":0.25,"c":0.09,"d":0.24},{"t":2089,"a":0.26,"b":0.23,"c":0.06,"d":0.22},
{"t":2093,"a":0.38,"b":0.32,"c":0.05,"d":0.3},{"t":2097,"a":0.2,"b":0.17,"c":0.03,"d":0.15},{"t":2101,"a":0.31,"b":0.27,"c":0.08,"d":0.26},{"t":2105,"a":0.26,"b":0.23,"c":0.05,"d":0.22},
{"t":2109,"a":0.4,"b":0.34,"c":0.05,"d":0.32},{"t":2113,"a":0.2,"b":0.17,"c":0.03,"d":0.15},{"t":2117,"a":0.33,"b":0.29,"c":0.07,"d":0.28},{"t":2121,"a":0.26,"b":0.23,"c":0.08,"d":0.22},
{"t":2125,"a":0.35,"b":0.29,"c":0.05,"d":0.27},{"t":2129,"a":0.2,"b":0.17,"c":0.03,"d":0.15},{"t":2133,"a":0.28,"b":0.24,"c":0.11,"d":0.23},{"t":2137,"a":0.26,"b":0.23,"c":0.06,"d":0.22},
{"t":2141,"a":0.39,"b":0.33,"c":0.05,"d":0.31},{"t":2145,"a":0.2,"b":0.17,"c":0.03,"d":0.15},{"t":2149,"a":0.32,"b":0.28,"c":0.06,"d":0.27},{"t":2153,"a":0.26,"b":0.23,"c":0.05,"d":0.22},
{"t":2157,"a":0.37,"b":0.31,"c":0.05,"d":0.29},{"t":2161,"a":0.2,"b":0.17,"c":0.03,"d":0.15},{"t":2165,"a":0.3,"b":0.26,"c":0.09,"d":0.25},{"t":2169,"a":0.26,"b":0.23,"c":0.08,"d":0.22},
{"t":2173,"a":0.41,"b":0.35,"c":0.05,"d":0.33},{"t":2177,"a":0.2,"b":0.17,"c":0.03,"d":0.15},{"t":2181,"a":0.34,"b":0.3,"c":0.08,"d":0.29},{"t":2185,"a":0.26,"b":0.23,"c":0.06,"d":0.22},
{"t":2189,"a":0.36,"b":0.3,"c":0.05,"d":0.28},{"t":2193,"a":0.2,"b":0.17,"c":0.03,"d":0.15},{"t":2197,"a":0.29,"b":0.25,"c":0.07,"d":0.24},{"t":2201,"a":0.26,"b":0.23,"c":0.05,"d":0.22},
{"t":2205,"a":0.38,"b":0.32,"c":0.05,"d":0.3},{"t":2209,"a":0.2,"b":0.17,"c":0.03,"d":0.15},{"t":2213,"a":0.31,"b":0.27,"c":0.11,"d":0.26},{"t":2217,"a":0.26,"b":0.23,"c":0.08,"d":0.22},
{"t":2221,"a":0.39,"b":0.33,"c":0.05,"d":0.31},{"t":2225,"a":0.2,"b":0.17,"c":0.03,"d":0.15},{"t":2229,"a":0.32,"b":0.28,"c":0.06,"d":0.27},{"t":2233,"a":0.26,"b":0.23,"c":0.06,"d":0.22},
{"t":2237,"a":0.37,"b":0.31,"c":0.05,"d":0.29},{"t":2241,"a":0.2,"b":0.17,"c":0.03,"d":0.15},{"t":2245,"a":0.3,"b":0.26,"c":0.09,"d":0.25},{"t":2249,"a":0.26,"b":0.23,"c":0.05,"d":0.22},
{"t":2253,"a":0.4,"b":0.34,"c":0.05,"d":0.32},{"t":2257,"a":0.2,"b":0.17,"c":0.03,"d":0.15},{"t":2261,"a":0.33,"b":0.29,"c":0.08,"d":0.28},{"t":2265,"a":0.26,"b":0.23,"c":0.08,"d":0.22},
{"t":2269,"a":0.35,"b":0.29,"c":0.05,"d":0.27},{"t":2273,"a":0.2,"b":0.17,"c":0.03,"d":0.15},{"t":2277,"a":0.28,"b":0.24,"c":0.07,"d":0.23},{"t":2281,"a":0.26,"b":0.23,"c":0.06,"d":0.22},
{"t":2285,"a":0.39,"b":0.33,"c":0.05,"d":0.31},{"t":2289,"a":0.2,"b":0.17,"c":0.03,"d":0.15},{"t":2293,"a":0.32,"b":0.28,"c":0.11,"d":0.27},{"t":2297,"a":0.26,"b":0.23,"c":0.05,"d":0.22},
{"t":2301,"a":0.38,"b":0.32,"c":0.05,"d":0.3},{"t":2305,"a":0.2,"b":0.17,"c":0.03,"d":0.15},{"t":2309,"a":0.31,"b":0.27,"c":0.06,"d":0.26},{"t":2313,"a":0.26,"b":0.23,"c":0.08,"d":0.22},
{"t":2317,"a":0.41,"b":0.35,"c":0.05,"d":0.33},{"t":2321,"a":0.2,"b":0.17,"c":0.03,"d":0.15},{"t":2325,"a":0.34,"b":0.3,"c":0.09,"d":0.29},{"t":2329,"a":0.26,"b":0.23,"c":0.06,"d":0.22},
{"t":2333,"a":0.36,"b":0.3,"c":0.05,"d":0.28},{"t":2337,"a":0.2,"b":0.17,"c":0.03,"d":0.15},{"t":2341,"a":0.29,"b":0.25,"c":0.08,"d":0.24},{"t":2345,"a":0.26,"b":0.23,"c":0.05,"d":0.22},
{"t":2349,"a":0.38,"b":0.32,"c":0.05,"d":0.3},{"t":2353,"a":0.2,"b":0.17,"c":0.03,"d":0.15},{"t":2357,"a":0.31,"b":0.27,"c":0.07,"d":0.26},{"t":2361,"a":0.26,"b":0.23,"c":0.08,"d":0.22},
{"t":2365,"a":0.4,"b":0.34,"c":0.05,"d":0.32},{"t":2369,"a":0.2,"b":0.17,"c":0.03,"d":0.15},{"t":2373,"a":0.33,"b":0.29,"c":0.11,"d":0.28},{"t":2377,"a":0.26,"b":0.23,"c":0.06,"d":0.22},
{"t":2381,"a":0.35,"b":0.29,"c":0.05,"d":0.27},{"t":2385,"a":0.2,"b":0.17,"c":0.03,"d":0.15},{"t":2389,"a":0.28,"b":0.24,"c":0.06,"d":0.23},{"t":2393,"a":0.26,"b":0.23,"c":0.05,"d":0.22},
{"t":2397,"a":0.39,"b":0.33,"c":0.05,"d":0.31},{"t":2401,"a":0.2,"b":0.17,"c":0.03,"d":0.15},{"t":2405,"a":0.32,"b":0.28,"c":0.09,"d":0.27},{"t":2409,"a":0.26,"b":0.23,"c":0.08,"d":0.22},
{"t":2413,"a":0.37,"b":0.31,"c":0.05,"d":0.29},{"t":2417,"a":0.2,"b":0.17,"c":0.03,"d":0.15},{"t":2421,"a":0.3,"b":0.26,"c":0.08,"d":0.25},{"t":2425,"a":0.26,"b":0.23,"c":0.06,"d":0.22},
{"t":2429,"a":0.41,"b":0.35,"c":0.05,"d":0.33},{"t":2433,"a":0.2,"b":0.17,"c":0.03,"d":0.15},{"t":2437,"a":0.34,"b":0.3,"c":0.07,"d":0.29},{"t":2441,"a":0.26,"b":0.23,"c":0.05,"d":0.22},
{"t":2445,"a":0.36,"b":0.3,"c":0.05,"d":0.28},{"t":2449,"a":0.2,"b":0.17,"c":0.03,"d":0.15},{"t":2453,"a":0.29,"b":0.25,"c":0.11,"d":0.24},{"t":2457,"a":0.26,"b":0.23,"c":0.08,"d":0.22},
{"t":2461,"a":0.38,"b":0.32,"c":0.05,"d":0.3},
{"t":14,"a":0.33,"b":0.26,"d":0.22},{"t":53,"a":0.33,"b":0.26,"d":0.22},{"t":64,"a":0.4,"b":0.52,"d":0.46},{"t":76,"a":0.4,"b":0.52,"d":0.46},
{"t":155,"a":0.4,"b":0.52,"d":0.46},{"t":183,"a":0.4,"b":0.52,"d":0.46},{"t":228,"a":0.4,"b":0.52,"d":0.46},{"t":338,"a":0.33,"b":0.27,"d":0.23},
{"t":404,"a":0.33,"b":0.27,"d":0.23},{"t":520,"a":0.33,"b":0.27,"d":0.23},{"t":606,"a":0.4,"b":0.52,"d":0.46},{"t":628,"a":0.33,"b":0.27,"d":0.23},
{"t":719,"a":2.34,"b":1.98,"d":1.93},{"t":766,"a":1.54,"b":1.43,"d":1.32},{"t":784,"a":0.4,"b":0.52,"d":0.46},{"t":790,"a":0.33,"b":0.27,"d":0.23},
{"t":869,"a":0.86,"b":0.93,"d":0.84},{"t":878,"a":0.4,"b":0.52,"d":0.46},{"t":973,"a":0.86,"b":0.93,"d":0.84},{"t":1033,"a":0.35,"b":0.28,"d":0.24},
{"t":1120,"a":0.4,"b":0.52,"d":0.46},
{"t":1214,"a":0.48,"b":0.4,"d":0.36},{"t":1300,"a":0.45,"b":0.38,"d":0.34},{"t":1405,"a":0.45,"b":0.38,"d":0.34},{"t":1450,"a":0.57,"b":0.48,"d":0.45},
{"t":1465,"a":0.5,"b":0.42,"d":0.4},{"t":1478,"a":0.62,"b":0.52,"d":0.48},{"t":1493,"a":0.65,"b":0.55,"d":0.5},{"t":1561,"a":0.46,"b":0.38,"d":0.35},
{"t":1695,"a":0.45,"b":0.38,"d":0.35},{"t":1733,"a":0.5,"b":0.42,"d":0.4},{"t":1783,"a":0.65,"b":0.52,"d":0.5},{"t":1854,"a":0.55,"b":0.45,"d":0.42},
{"t":1932,"a":0.49,"b":0.42,"d":0.38},{"t":2234,"a":0.49,"b":0.42,"d":0.38},{"t":2273,"a":0.63,"b":0.52,"d":0.48},{"t":2369,"a":0.5,"b":0.42,"d":0.38},
{"t":2373,"a":0.46,"b":0.4,"d":0.36},{"t":2425,"a":0.43,"b":0.36,"d":0.33},
{"t":1224,"a":1.54,"b":1.4,"d":1.3},{"t":1230,"a":2.3,"b":1.97,"d":1.92},{"t":1235,"a":1.45,"b":1.35,"d":1.22},{"t":1240,"a":1.35,"b":1.25,"d":1.15},
{"t":1245,"a":1.3,"b":1.22,"d":1.14},{"t":1250,"a":3.12,"b":2.51,"d":2.5},{"t":1254,"a":1.5,"b":1.35,"d":1.25},{"t":1256,"a":2.44,"b":2.08,"d":2.05},
{"t":1258,"a":2.24,"b":2.09,"d":2.02},{"t":1262,"a":1.4,"b":1.28,"d":1.18},{"t":1266,"a":1.3,"b":1.18,"d":1.12},{"t":1271,"a":1.25,"b":1.18,"d":1.1},
{"t":1276,"a":2.36,"b":2.0,"d":1.95},{"t":1280,"a":1.9,"b":1.75,"d":1.68},{"t":1288,"a":1.62,"b":1.5,"d":1.42},{"t":1306,"a":1.8,"b":1.59,"d":1.52},
{"t":1327,"a":2.52,"b":2.11,"d":2.09},{"t":1357,"a":2.64,"b":2.2,"d":2.17},{"t":1362,"a":2.0,"b":1.81,"d":1.75},{"t":1374,"a":1.5,"b":1.38,"d":1.3},
{"t":1379,"a":1.6,"b":1.49,"d":1.42},{"t":1386,"a":2.43,"b":2.05,"d":2.0},{"t":1388,"a":1.65,"b":1.5,"d":1.45},{"t":1392,"a":1.35,"b":1.24,"d":1.15},
{"t":1401,"a":1.0,"b":0.92,"d":0.85},{"t":1427,"a":1.0,"b":0.92,"d":0.85},{"t":1435,"a":5.1,"b":3.74,"d":3.96},{"t":1437,"a":2.71,"b":2.23,"d":2.2},
{"t":1453,"a":1.73,"b":1.57,"d":1.48},{"t":1457,"a":2.79,"b":2.29,"d":2.25},{"t":1461,"a":3.12,"b":2.51,"d":2.48},{"t":1466,"a":1.45,"b":1.35,"d":1.25},
{"t":1470,"a":2.97,"b":2.37,"d":2.35},{"t":1474,"a":1.77,"b":1.57,"d":1.5},{"t":1480,"a":1.38,"b":1.28,"d":1.2},{"t":1483,"a":1.2,"b":1.15,"d":1.05},
{"t":1487,"a":2.29,"b":1.97,"d":1.92},{"t":1491,"a":1.25,"b":1.14,"d":1.12},{"t":1514,"a":1.88,"b":1.69,"d":1.62},{"t":1517,"a":1.94,"b":1.73,"d":1.66},
{"t":1540,"a":1.39,"b":1.27,"d":1.2},{"t":1556,"a":2.64,"b":2.19,"d":2.15},{"t":1604,"a":1.92,"b":1.68,"d":1.62},{"t":1606,"a":1.46,"b":1.31,"d":1.25},
{"t":1617,"a":4.33,"b":3.26,"d":3.4},{"t":1651,"a":1.42,"b":1.3,"d":1.22},{"t":1652,"a":0.9,"b":0.87,"d":0.8},{"t":1656,"a":3.54,"b":2.8,"d":2.8},
{"t":1686,"a":2.48,"b":2.08,"d":2.03},{"t":1699,"a":1.55,"b":1.43,"d":1.36},{"t":1700,"a":1.05,"b":0.98,"d":0.92},{"t":1707,"a":2.58,"b":2.14,"d":2.1},
{"t":1727,"a":1.85,"b":1.65,"d":1.58},{"t":1729,"a":1.08,"b":1.0,"d":0.93},{"t":1736,"a":4.39,"b":3.32,"d":3.44},{"t":1746,"a":1.55,"b":1.43,"d":1.36},
{"t":1747,"a":1.22,"b":1.14,"d":1.1},{"t":1764,"a":2.36,"b":2.0,"d":1.96},{"t":1781,"a":2.1,"b":1.81,"d":1.76},{"t":1782,"a":1.45,"b":1.35,"d":1.28},
{"t":1788,"a":1.4,"b":1.3,"d":1.22},{"t":1794,"a":1.92,"b":1.7,"d":1.64},{"t":1848,"a":1.94,"b":1.7,"d":1.64},{"t":1849,"a":1.32,"b":1.22,"d":1.15},
{"t":1870,"a":2.08,"b":1.81,"d":1.77},{"t":1871,"a":1.32,"b":1.22,"d":1.15},{"t":1886,"a":2.28,"b":1.94,"d":1.9},{"t":1902,"a":2.15,"b":1.84,"d":1.8},
{"t":1906,"a":1.57,"b":1.43,"d":1.36},{"t":1908,"a":1.48,"b":1.38,"d":1.3},{"t":1915,"a":1.4,"b":1.3,"d":1.22},{"t":1925,"a":1.45,"b":1.35,"d":1.28},
{"t":1936,"a":0.95,"b":0.89,"d":0.83},{"t":1941,"a":1.35,"b":1.25,"d":1.18},{"t":1945,"a":0.98,"b":0.91,"d":0.84},{"t":1949,"a":0.75,"b":0.62,"d":0.58},
{"t":1958,"a":1.63,"b":1.49,"d":1.42},{"t":1971,"a":3.48,"b":2.75,"d":2.76},{"t":1978,"a":1.35,"b":1.25,"d":1.18},{"t":1984,"a":1.97,"b":1.76,"d":1.7},
{"t":1985,"a":1.08,"b":1.0,"d":0.93},{"t":2010,"a":1.83,"b":1.65,"d":1.58},{"t":2020,"a":1.5,"b":1.38,"d":1.3},{"t":2031,"a":5.12,"b":3.75,"d":3.99},
{"t":2046,"a":1.92,"b":1.68,"d":1.62},{"t":2052,"a":1.48,"b":1.38,"d":1.3},{"t":2062,"a":1.32,"b":1.22,"d":1.15},{"t":2069,"a":1.3,"b":1.2,"d":1.12},
{"t":2098,"a":1.48,"b":1.38,"d":1.3},{"t":2143,"a":1.38,"b":1.27,"d":1.2},{"t":2158,"a":1.65,"b":1.52,"d":1.45},{"t":2217,"a":1.69,"b":1.56,"d":1.48},
{"t":2232,"a":1.55,"b":1.43,"d":1.36},{"t":2233,"a":0.95,"b":0.87,"d":0.8},{"t":2238,"a":0.9,"b":0.84,"d":0.8},{"t":2247,"a":1.08,"b":1.0,"d":0.93},
{"t":2252,"a":1.05,"b":0.99,"d":0.92},{"t":2275,"a":1.88,"b":1.67,"d":1.6},{"t":2282,"a":0.62,"b":0.76,"d":0.7},{"t":2295,"a":0.9,"b":0.8,"d":0.74},
{"t":2300,"a":1.35,"b":1.25,"d":1.18},{"t":2305,"a":2.33,"b":1.97,"d":1.92},{"t":2308,"a":3.06,"b":2.47,"d":2.45},{"t":2312,"a":1.75,"b":1.62,"d":1.52},
{"t":2315,"a":1.25,"b":1.15,"d":1.08},{"t":2318,"a":1.6,"b":1.45,"d":1.35},{"t":2326,"a":1.9,"b":1.7,"d":1.62},{"t":2330,"a":1.45,"b":1.32,"d":1.25},
{"t":2334,"a":3.54,"b":2.8,"d":2.78},{"t":2338,"a":1.28,"b":1.2,"d":1.12},{"t":2341,"a":2.92,"b":2.37,"d":2.33},{"t":2343,"a":2.7,"b":2.28,"d":2.22},
{"t":2344,"a":1.8,"b":1.62,"d":1.55},{"t":2399,"a":0.58,"b":0.54,"d":0.5},{"t":2416,"a":1.08,"b":1.0,"d":0.93},{"t":2420,"a":1.05,"b":0.98,"d":0.92},
{"t":2428,"a":1.17,"b":1.14,"d":1.08}
]},
"transform": [{"fold": ["a", "b", "c", "d"], "as": ["k", "v"]}],
"mark": {"type": "point", "filled": true, "opacity": 1, "size": 90, "clip": false, "strokeWidth": 0},
"encoding": {
  "x": {"field": "t", "type": "quantitative",
        "scale": {"domain": [1, 2445], "nice": false, "zero": false},
        "axis": {"values": [1,201,401,601,801,1001,1201,1401,1601,1801,2001,2201,2401], "format": "d", "grid": false, "labelFlush": false, "labelOverlap": false,
                 "tickSize": 5, "labelPadding": 12, "title": "GÜN (1984-2012 yılları arası)", "titleFontSize": 18.6,
                 "titleX": 411, "titleY": 72, "titleBaseline": "alphabetic", "titleAlign": "center"}},
  "y": {"field": "v", "type": "quantitative",
        "scale": {"domain": [0, 6], "nice": false, "zero": true},
        "axis": {"values": [0,1,2,3,4,5,6], "format": ".1f", "grid": true, "gridColor": "#808080", "gridWidth": 1, "labelFlush": false,
                 "tickSize": 6, "labelPadding": 12, "title": "Belirgin Dalga Yüksekliği (m)", "titleFontSize": 20.5,
                 "titleX": -63.5, "titleY": 197, "titleBaseline": "alphabetic", "titleAlign": "center", "titleAngle": 270}},
  "color": {"field": "k", "type": "nominal",
            "scale": {"domain": ["a","b","c","d"], "range": ["#000080","#FF00FF","#FFFF00","#00FFFF"]},
            "legend": {"title": null, "orient": "none", "legendX": 99, "legendY": 447, "direction": "horizontal",
                       "labelExpr": "datum.label == 'a' ? 'SPM Yöntemi' : datum.label == 'b' ? 'Jonswap Spektrum' : datum.label == 'c' ? 'Wilson' : 'CEM Yöntemi'",
                       "labelFont": "Liberation Sans", "labelFontSize": 19.5, "labelColor": "black", "labelLimit": 400, "symbolSize": 64, "symbolStrokeWidth": 0,
                       "strokeColor": "#333333", "fillColor": "white", "padding": 13, "columnPadding": 18, "labelOffset": -4}},
  "shape": {"field": "k", "type": "nominal",
            "scale": {"domain": ["a","b","c","d"], "range": ["diamond","square","triangle-up","M-1,-0.6L-0.4,0L-1,0.6L-0.6,1L0,0.4L0.6,1L1,0.6L0.4,0L1,-0.6L0.6,-1L0,-0.4L-0.6,-1Z"]},
            "legend": {"title": null, "orient": "none", "legendX": 99, "legendY": 447, "direction": "horizontal",
                       "labelExpr": "datum.label == 'a' ? 'SPM Yöntemi' : datum.label == 'b' ? 'Jonswap Spektrum' : datum.label == 'c' ? 'Wilson' : 'CEM Yöntemi'",
                       "labelFont": "Liberation Sans", "labelFontSize": 19.5, "labelColor": "black", "labelLimit": 400, "symbolSize": 64, "symbolStrokeWidth": 0,
                       "strokeColor": "#333333", "fillColor": "white", "padding": 13, "columnPadding": 18, "labelOffset": -4}},
  "order": {"field": "k", "type": "nominal", "sort": "ascending"}
}
}
